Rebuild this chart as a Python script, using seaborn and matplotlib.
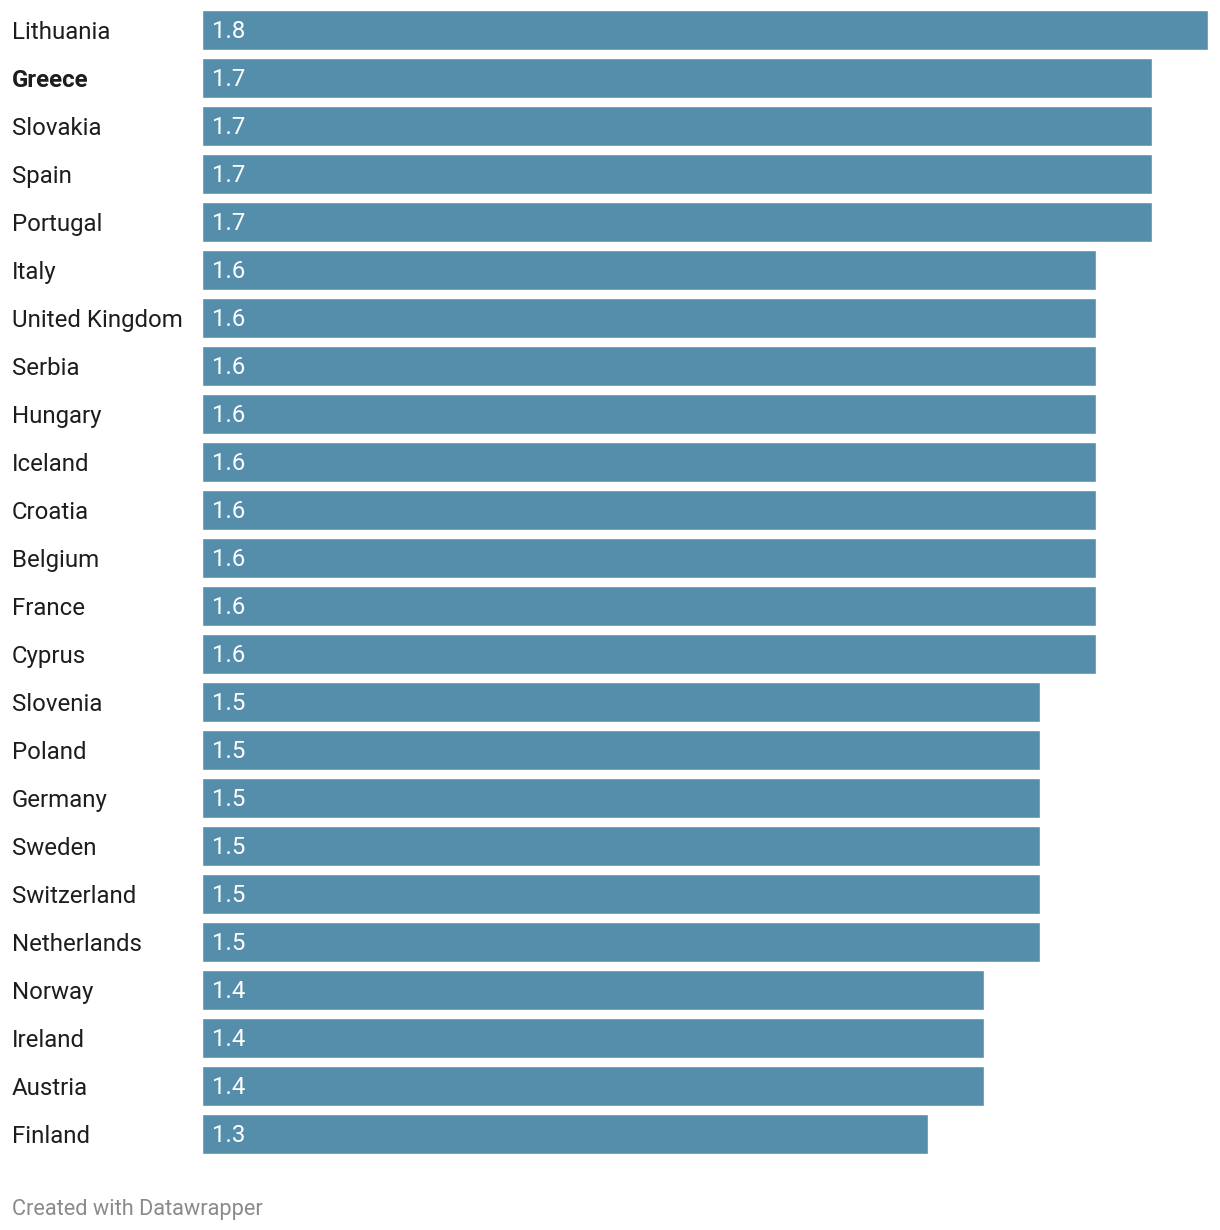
import os

import matplotlib.pyplot as plt
import pandas as pd
import seaborn as sns
from matplotlib.font_manager import FontProperties

countries = [
    "Lithuania", "Greece", "Slovakia", "Spain", "Portugal", "Italy",
    "United Kingdom", "Serbia", "Hungary", "Iceland", "Croatia", "Belgium",
    "France", "Cyprus", "Slovenia", "Poland", "Germany", "Sweden",
    "Switzerland", "Netherlands", "Norway", "Ireland", "Austria", "Finland",
]
values = [
    1.8, 1.7, 1.7, 1.7, 1.7, 1.6,
    1.6, 1.6, 1.6, 1.6, 1.6, 1.6,
    1.6, 1.6, 1.5, 1.5, 1.5, 1.5,
    1.5, 1.5, 1.4, 1.4, 1.4, 1.3,
]
highlight = "Greece"

BAR_COLOR = "#558eaa"
W, H = 1220, 1230
FS = 17.28  # 24 px

sns.set_style("white")
plt.rcParams["font.family"] = ["Roboto", "DejaVu Sans"]

# use the static Roboto files (the variable font renders narrower)
ROBOTO_DIR = "/usr/share/fonts/truetype/roboto/unhinted/RobotoTTF"


def roboto(weight="Regular", size=FS):
    path = os.path.join(ROBOTO_DIR, f"Roboto-{weight}.ttf")
    if os.path.exists(path):
        return FontProperties(fname=path, size=size)
    return FontProperties(family="Roboto", weight=weight.lower(), size=size)


df = pd.DataFrame({"country": countries, "value": values})

fig = plt.figure(figsize=(W / 100, H / 100), dpi=100)
# axes placed in pixels: bars start at x=202, 1.8 reaches x=1208
ax = fig.add_axes([201.5 / W, (H - 1158) / H, 1006.5 / W, 1152 / H])

sns.barplot(data=df, x="value", y="country", color=BAR_COLOR, saturation=1,
            width=40 / 48, ax=ax)

ax.set_xlim(0, 1.8)
ax.set_ylim(len(countries) - 0.5, -0.5)
ax.set_xlabel("")
ax.set_ylabel("")
ax.set_xticks([])
sns.despine(ax=ax, left=True, bottom=True)

# country labels, left aligned at x=12
ax.tick_params(axis="y", length=0, pad=189.5 * 72 / 100, labelcolor="#1d1d1d")
for lbl in ax.get_yticklabels():
    lbl.set_horizontalalignment("left")
    weight = "Bold" if lbl.get_text() == highlight else "Regular"
    lbl.set_fontproperties(roboto(weight))

# value labels inside the bars
for i, v in enumerate(values):
    ax.annotate(f"{v:.1f}", xy=(0, i), xytext=(10, -2), textcoords="offset pixels",
                ha="left", va="center", color="white", fontproperties=roboto())

fig.text(12 / W, (H - 1215) / H, "Created with Datawrapper", color="#8a8a8a",
         fontproperties=roboto(size=15.65), ha="left", va="baseline")

fig.savefig("out.png", dpi=100, facecolor="white")
